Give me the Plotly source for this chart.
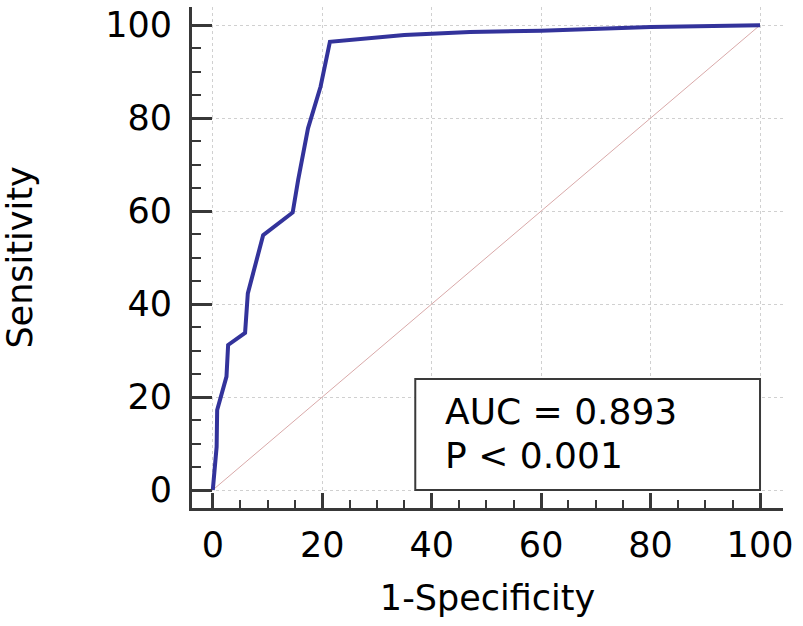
import plotly.graph_objects as go

# ROC curve points
fpr = [0, 0.3, 0.7, 0.8, 2.5, 2.8, 5.9, 6.4, 9.2, 14.6, 15.6, 17.4, 19.7, 21.4, 24.7, 35, 47, 60, 80, 90, 100]
tpr = [0, 5, 9.3, 17.2, 24.4, 31.2, 33.8, 42.3, 54.8, 59.7, 66.7, 77.8, 86.8, 96.4, 96.8, 97.9, 98.5, 98.8, 99.6, 99.7, 100]

ref_line = [0, 100]
tick_vals = [0, 20, 40, 60, 80, 100]
auc_text = "AUC = 0.893"
p_text = "P < 0.001"

axis_color = "#383838"
font_name = "DejaVu Sans, sans-serif"

fig = go.Figure()

fig.add_trace(go.Scatter(
    x=ref_line, y=ref_line, mode="lines",
    line=dict(color="#d9a9a9", width=1),
    showlegend=False, hoverinfo="skip"
))

fig.add_trace(go.Scatter(
    x=fpr, y=tpr, mode="lines",
    line=dict(color="#33339b", width=4),
    showlegend=False
))

# text box in the lower right
fig.add_shape(type="rect", xref="x", yref="y", x0=37, x1=100, y0=0, y1=23.9,
              line=dict(color="#3a3a3a", width=2), fillcolor="white", layer="above")
fig.add_annotation(x=42, y=16.9, xref="x", yref="y", text=auc_text, showarrow=False,
                   xanchor="left", yanchor="middle", font=dict(size=36, color="black"))
fig.add_annotation(x=42, y=7.4, xref="x", yref="y", text=p_text, showarrow=False,
                   xanchor="left", yanchor="middle", font=dict(size=36, color="black"))

fig.update_xaxes(
    range=[-3.8, 104.2], tickvals=tick_vals, automargin=False,
    showline=True, linecolor=axis_color, linewidth=3,
    ticks="inside", ticklen=15, tickwidth=2.5, tickcolor=axis_color,
    minor=dict(dtick=5, ticks="inside", ticklen=8, tickwidth=2, tickcolor=axis_color, showgrid=False),
    showgrid=True, gridcolor="#d0d0d0", griddash="dot", gridwidth=1,
    zeroline=False, tickfont=dict(size=35, color="black"), ticklabelstandoff=4,
    ticklabeloverflow="allow",
    title=dict(text="1-Specificity", font=dict(size=35, color="black"), standoff=22),
)
fig.update_yaxes(
    range=[-3.87, 103.9], tickvals=tick_vals, automargin=False,
    showline=True, linecolor=axis_color, linewidth=3,
    ticks="inside", ticklen=20, tickwidth=2.5, tickcolor=axis_color,
    minor=dict(dtick=5, ticks="inside", ticklen=9, tickwidth=2, tickcolor=axis_color, showgrid=False),
    showgrid=True, gridcolor="#d0d0d0", griddash="dot", gridwidth=1,
    zeroline=False, tickfont=dict(size=35, color="black"), ticklabelstandoff=10,
    ticklabeloverflow="allow",
    title=dict(text="Sensitivity", font=dict(size=35, color="black"), standoff=73),
)

fig.update_layout(
    width=803, height=626,
    margin=dict(l=192, r=20, t=7, b=118),
    plot_bgcolor="white", paper_bgcolor="white",
    font=dict(family=font_name),
)

# drop the default page margin so the figure sits at the window corner
fig.write_html("out.html", config={"displayModeBar": False},
               post_script="document.body.style.margin='0px';")
